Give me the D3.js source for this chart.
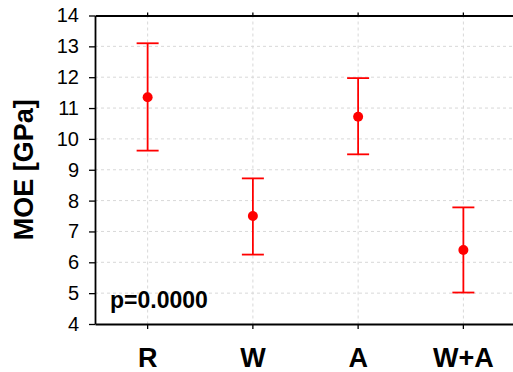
<!DOCTYPE html>
<html lang="en">
<head>
<meta charset="utf-8">
<title>MOE</title>
<script src="https://cdn.jsdelivr.net/npm/d3@7"></script>
<style>
  body { margin: 0; background: #fff; }
  text { font-family: "Liberation Sans", Arial, sans-serif; }
</style>
</head>
<body>
<script>
// data
var categories = ["R", "W", "A", "W+A"];
var means = [11.35, 7.5, 10.72, 6.4];
var upper = [13.1, 8.72, 11.97, 7.78];
var lower = [9.62, 6.25, 9.5, 5.02];
var yTicks = [4, 5, 6, 7, 8, 9, 10, 11, 12, 13, 14];

var w = 513, h = 372;
var pLeft = 95, pTop = 15.5, pBottom = 324, pRight = 516;

var svg = d3.select("body").append("svg")
  .attr("width", w).attr("height", h);

var x = d3.scaleBand().domain(categories).range([pLeft, pRight]);
var y = d3.scaleLinear().domain([4, 14]).range([pBottom, pTop]);

// grid
svg.selectAll("line.hgrid")
  .data(yTicks.slice(1, -1))
  .enter().append("line")
  .attr("x1", pLeft).attr("x2", w)
  .attr("y1", function(d) { return y(d); })
  .attr("y2", function(d) { return y(d); })
  .attr("stroke", "#d8d8d8").attr("stroke-dasharray", "3,3");

svg.selectAll("line.vgrid")
  .data(categories)
  .enter().append("line")
  .attr("x1", function(d) { return x(d) + x.bandwidth() / 2; })
  .attr("x2", function(d) { return x(d) + x.bandwidth() / 2; })
  .attr("y1", pTop).attr("y2", pBottom)
  .attr("stroke", "#d8d8d8").attr("stroke-dasharray", "3,3");

// axes
var yAxis = svg.append("g")
  .attr("transform", "translate(" + pLeft + ",0)")
  .call(d3.axisLeft(y).tickValues(yTicks).tickSize(6).tickSizeOuter(0));
yAxis.selectAll("text").attr("font-size", "20px").attr("fill", "#000")
  .attr("font-family", "Liberation Sans, Arial, sans-serif").attr("x", -16);

var xAxis = svg.append("g")
  .attr("transform", "translate(0," + pBottom + ")")
  .call(d3.axisBottom(x).tickSize(5).tickSizeOuter(0));
xAxis.selectAll("text").attr("font-size", "27px").attr("font-weight", "bold")
  .attr("fill", "#000").attr("font-family", "Liberation Sans, Arial, sans-serif")
  .attr("dy", null).attr("y", 43);

var topAxis = svg.append("g")
  .attr("transform", "translate(0," + pTop + ")")
  .call(d3.axisTop(x).tickSize(3).tickSizeOuter(0).tickFormat(""));

svg.selectAll(".domain").attr("stroke", "#000").attr("stroke-width", 1.8);
svg.selectAll(".tick line").attr("stroke", "#000").attr("stroke-width", 1.3);

// y label
svg.append("text")
  .attr("transform", "translate(33," + ((pTop + pBottom) / 2) + ") rotate(-90)")
  .attr("text-anchor", "middle")
  .attr("font-size", "27px").attr("font-weight", "bold")
  .text("MOE [GPa]");

// error bars
var cx = function(d, i) { return x(categories[i]) + x.bandwidth() / 2; };
var g = svg.append("g").attr("stroke", "#ff0000").attr("stroke-width", 1.8);

g.selectAll("line.bar")
  .data(means).enter().append("line")
  .attr("x1", cx).attr("x2", cx)
  .attr("y1", function(d, i) { return y(upper[i]); })
  .attr("y2", function(d, i) { return y(lower[i]); });

g.selectAll("line.capU")
  .data(means).enter().append("line")
  .attr("x1", function(d, i) { return cx(d, i) - 11; })
  .attr("x2", function(d, i) { return cx(d, i) + 11; })
  .attr("y1", function(d, i) { return y(upper[i]); })
  .attr("y2", function(d, i) { return y(upper[i]); });

g.selectAll("line.capL")
  .data(means).enter().append("line")
  .attr("x1", function(d, i) { return cx(d, i) - 11; })
  .attr("x2", function(d, i) { return cx(d, i) + 11; })
  .attr("y1", function(d, i) { return y(lower[i]); })
  .attr("y2", function(d, i) { return y(lower[i]); });

svg.selectAll("circle")
  .data(means).enter().append("circle")
  .attr("cx", cx)
  .attr("cy", function(d) { return y(d); })
  .attr("r", 5)
  .attr("fill", "#ff0000");

// p value
svg.append("text")
  .attr("x", 110).attr("y", 308)
  .attr("font-size", "23px").attr("font-weight", "bold")
  .text("p=0.0000");
</script>
</body>
</html>
